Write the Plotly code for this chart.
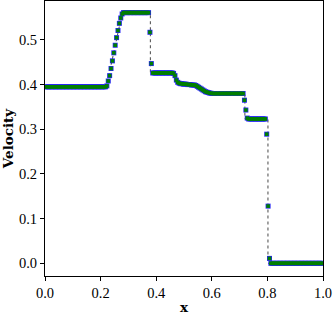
import numpy as np
import plotly.graph_objects as go

# numerical solution: 200 cell centres
x_cells = np.linspace(0.0025, 0.9975, 200)
velocity = (
    [0.395] * 44
    + [0.397, 0.408, 0.420, 0.436, 0.453, 0.471, 0.488, 0.505, 0.521, 0.537, 0.549, 0.558, 0.561]
    + [0.561] * 18
    + [0.517, 0.447]
    + [0.426] * 15
    + [0.425, 0.420, 0.410, 0.405, 0.403]
    + [0.402, 0.402, 0.401, 0.401, 0.401, 0.400, 0.400, 0.400, 0.399, 0.399, 0.399]
    + [0.398, 0.396, 0.394, 0.392, 0.390, 0.388, 0.386, 0.384, 0.383, 0.382, 0.381, 0.3805]
    + [0.380] * 23
    + [0.365, 0.343, 0.325]
    + [0.323] * 13
    + [0.289, 0.128, 0.011]
    + [0.0] * 38
)

# reference (exact) solution
x_exact = [0.0, 0.221, 0.278, 0.379, 0.379, 0.465, 0.48, 0.54, 0.60, 0.719, 0.719, 0.802, 0.802, 1.0]
v_exact = [0.395, 0.395, 0.561, 0.561, 0.426, 0.426, 0.404, 0.399, 0.380, 0.380, 0.323, 0.323, 0.0, 0.0]

x_ticks = [0.0, 0.2, 0.4, 0.6, 0.8, 1.0]
y_ticks = [0.0, 0.1, 0.2, 0.3, 0.4, 0.5]

fig = go.Figure()
fig.add_trace(go.Scatter(x=x_exact, y=v_exact, mode="lines",
                         line=dict(color="#333333", width=0.9, dash="dot"),
                         hoverinfo="skip", showlegend=False))
fig.add_trace(go.Scatter(x=x_cells, y=velocity, mode="markers",
                         marker=dict(symbol="square", size=5, color="#2525f5",
                                     line=dict(width=0)),
                         hoverinfo="skip", showlegend=False))
fig.add_trace(go.Scatter(x=x_cells, y=velocity, mode="markers",
                         marker=dict(symbol="square", size=3.6, color="#007f00",
                                     line=dict(width=0)),
                         hoverinfo="skip", showlegend=False))

tick_font = dict(family="Liberation Serif", size=14.5, color="black")
title_font = dict(family="DejaVu Serif", size=13.5, color="black")
fig.update_layout(
    width=333, height=316,
    margin=dict(l=45, r=10, t=1, b=40, autoexpand=False),
    paper_bgcolor="white", plot_bgcolor="white",
    font=tick_font,
    showlegend=False,
    hovermode=False,
)
fig.update_xaxes(range=[0, 1], tickvals=x_ticks, ticktext=[f"{v:.1f}" for v in x_ticks],
                 ticks="outside", ticklen=4, tickwidth=1, tickcolor="black",
                 tickfont=tick_font,
                 showline=True, linecolor="black", linewidth=1, mirror=True,
                 showgrid=False, zeroline=False, automargin=False,
                 title=dict(text="<b>x</b>", font=title_font, standoff=2))
fig.update_yaxes(range=[-0.0284, 0.587], tickvals=y_ticks, ticktext=[f"{v:.1f}" for v in y_ticks],
                 ticks="outside", ticklen=4, tickwidth=1, tickcolor="black",
                 tickfont=tick_font,
                 showline=True, linecolor="black", linewidth=1, mirror=True,
                 showgrid=False, zeroline=False, automargin=False,
                 title=dict(text="<b>Velocity</b>", font=title_font, standoff=4))

fig.write_html("out.html",
               config={"displayModeBar": False, "staticPlot": True},
               post_script="document.body.style.margin='0';document.body.style.overflow='hidden';")
